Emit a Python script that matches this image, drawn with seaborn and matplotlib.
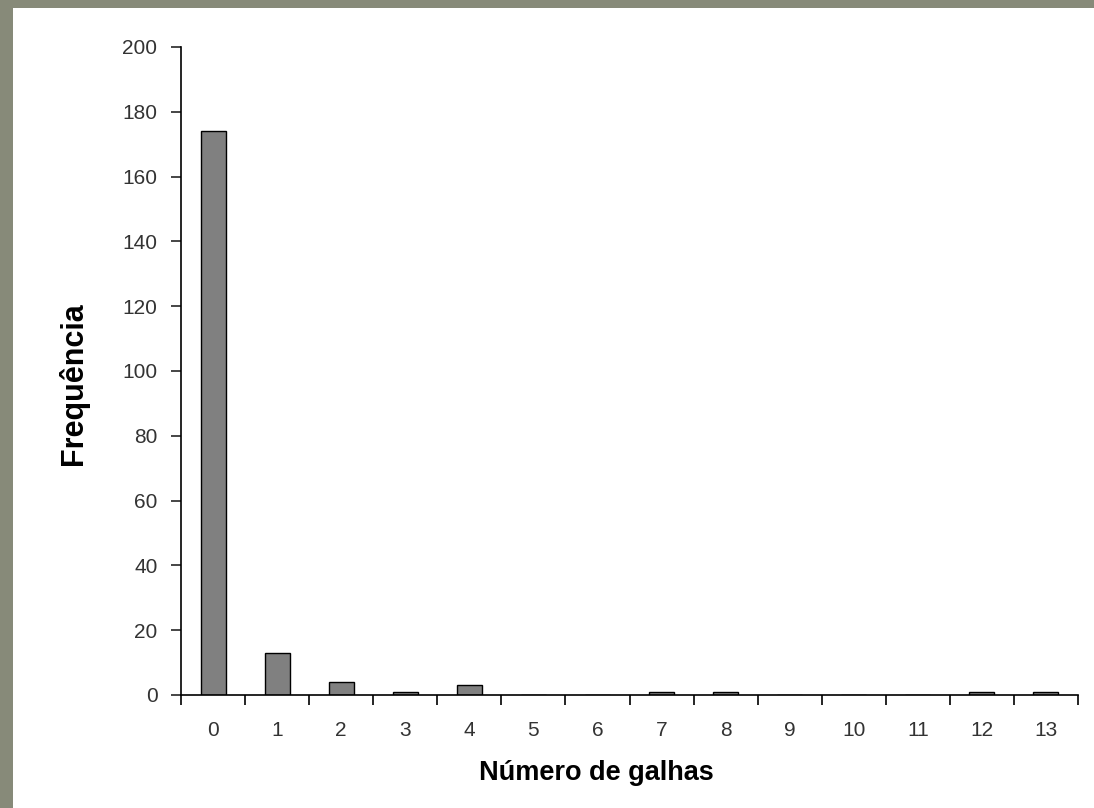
import numpy as np
import pandas as pd
from matplotlib import pyplot as plt
from matplotlib.patches import Rectangle
import seaborn as sns

galhas = [str(i) for i in range(14)]
frequencia = [174, 13, 4, 1, 3, 0, 0, 1, 1, 0, 0, 0, 1, 1]

df = pd.DataFrame({'galhas': galhas, 'freq': frequencia})

sns.set_style('ticks')
plt.rcParams['font.family'] = ['Liberation Sans', 'DejaVu Sans']

fig = plt.figure(figsize=(10.94, 8.08), dpi=100, facecolor='#878a79')
fig.patches.append(Rectangle((13/1094, 0), 1, 1 - 8/808, transform=fig.transFigure,
                             facecolor='white', edgecolor='none', zorder=-10))
ax = fig.add_axes([181/1094, 1 - 695/808, (1078 - 181)/1094, (695 - 47)/808])
ax.set_facecolor('none')

sns.barplot(data=df, x='galhas', y='freq', order=galhas, color='#808080',
            saturation=1, width=0.39, edgecolor='black', linewidth=1, ax=ax)

ax.set_xlim(-0.5, 13.5)
ax.set_ylim(0, 200)
ax.set_yticks(np.arange(0, 201, 20))
ax.set_xticks(range(14))
ax.set_xticklabels(galhas)
ax.set_xticks(np.arange(-0.5, 14, 1), minor=True)
ax.tick_params(axis='x', which='major', length=0, pad=19, labelsize=15, labelcolor='#333333')
ax.tick_params(axis='x', which='minor', length=7, width=1.2, direction='out', color='black')
ax.tick_params(axis='y', length=7, width=1.2, pad=10, labelsize=15, labelcolor='#333333')

for s in ['top', 'right']:
    ax.spines[s].set_visible(False)
for s in ['left', 'bottom']:
    ax.spines[s].set_linewidth(1.2)
    ax.spines[s].set_color('black')

ax.set_xlabel('Número de galhas', fontsize=19.5, fontweight='bold', labelpad=14, color='black')
ax.set_ylabel('Frequência', fontsize=22, fontweight='bold', labelpad=24, color='black')
# the original labels sit a little off the axis centre
ax.xaxis.label.set_x(0.463)
ax.yaxis.label.set_y(0.48)

plt.savefig('out.png', dpi=100, facecolor=fig.get_facecolor())
